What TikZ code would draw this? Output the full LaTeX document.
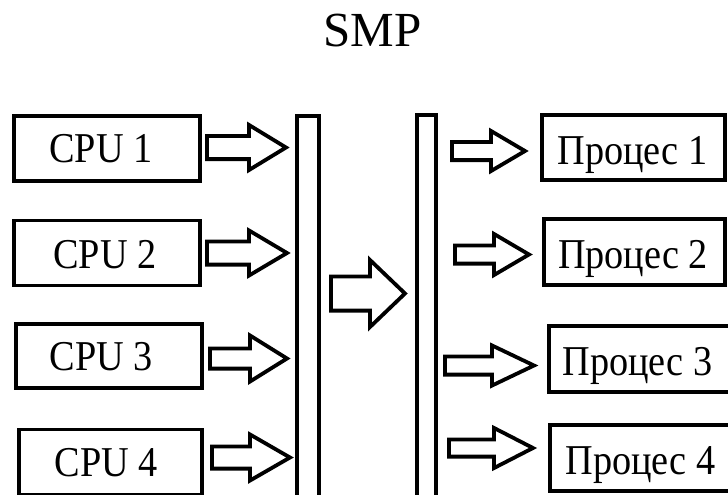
\documentclass[tikz,border=0pt]{standalone}
\usepackage{fontspec}
\setmainfont{Liberation Serif}
\newfontfamily\boxfont[FakeStretch=0.9]{Liberation Serif}
\tikzset{
  x=1pt, y=-1pt,
  outl/.style={draw=black, line width=3.8pt, line join=miter},
  unitbox/.style={outl, fill=white, inner sep=0pt},
  unittext/.style={inner sep=0pt, font=\boxfont\fontsize{42.5}{42.5}\selectfont,
                   text height=28pt, text depth=0pt},
  busbar/.style={outl, fill=white},
}
% block arrow: #1 shaft start x, #2 head base x, #3 tip x, #4 centre y,
% #5 shaft half height, #6 head half height
\newcommand{\blockarrow}[6]{%
  \draw[outl, fill=white] (#1,#4-#5) -- (#2,#4-#5) -- (#2,#4-#6) -- (#3,#4)
    -- (#2,#4+#6) -- (#2,#4+#5) -- (#1,#4+#5) -- cycle;}
\begin{document}
\begin{tikzpicture}
\useasboundingbox (0,0) rectangle (728,495);
\clip (0,0) rectangle (728,495);

% title
\node[anchor=base, font=\fontsize{49}{49}\selectfont, inner sep=0pt] (title) at (372.5,47) {SMP};

% processors
\node[unitbox, minimum width=186pt, minimum height=65pt] (cpu1) at (107,148.5) {};
\node[unitbox, minimum width=186pt, minimum height=65pt] (cpu2) at (107,253) {};
\node[unitbox, minimum width=186pt, minimum height=64pt] (cpu3) at (109,356) {};
\node[unitbox, minimum width=183pt, minimum height=65pt] (cpu4) at (110.5,462) {};
\node[unittext] (cpu1t) at (101,148.5) {CPU 1};
\node[unittext] (cpu2t) at (105,254) {CPU 2};
\node[unittext] (cpu3t) at (101.5,356) {CPU 3};
\node[unittext] (cpu4t) at (106.5,462) {CPU 4};

% two vertical bars
\draw[busbar] (296.9,115.9) rectangle (319.1,510);
\coordinate (barL) at (296.9,115.9);
\draw[busbar] (416.9,114.9) rectangle (436.1,510);
\coordinate (barR) at (416.9,114.9);

% processes
\node[unitbox, minimum width=183pt, minimum height=65pt] (p1) at (633.5,147.5) {};
\node[unitbox, minimum width=181pt, minimum height=66pt] (p2) at (634.5,252) {};
\node[unitbox, minimum width=183pt, minimum height=66pt] (p3) at (640.5,359) {};
\node[unitbox, minimum width=183pt, minimum height=66pt] (p4) at (641.5,458) {};
\node[unittext] (p1t) at (632.5,150) {Процес 1};
\node[unittext] (p2t) at (633,254) {Процес 2};
\node[unittext] (p3t) at (637.5,361) {Процес 3};
\node[unittext] (p4t) at (640.5,460) {Процес 4};

% arrows into the left bar
\blockarrow{206.9}{248.9}{286}{147.5}{11.6}{22.6}
\blockarrow{206.9}{248.9}{287}{253}{11.6}{22.6}
\blockarrow{209.9}{249.9}{287}{358.5}{10.1}{23.1}
\blockarrow{211.9}{249.9}{290}{457.5}{11.1}{23.1}

% arrow between the bars
\blockarrow{330.9}{369.9}{405}{293.5}{17.1}{33.6}

% arrows into the processes
\blockarrow{451.9}{490.9}{525}{151}{9.1}{20.1}
\blockarrow{454.9}{493.9}{529}{254.5}{9.1}{20.6}
\blockarrow{444.9}{491.9}{534}{365.5}{9.1}{20.1}
\blockarrow{448.9}{493.9}{533}{448}{8.6}{20.1}
\end{tikzpicture}
\end{document}
